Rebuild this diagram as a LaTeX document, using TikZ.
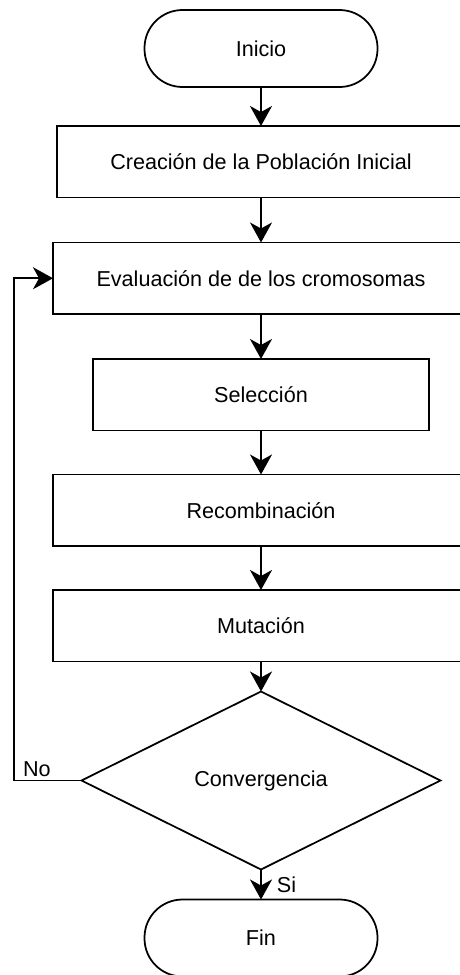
\documentclass[tikz,border=0pt]{standalone}
\usepackage{fontspec}
\setmainfont{Liberation Sans}
\usetikzlibrary{shapes.geometric, arrows.meta, positioning}
\tikzset{
  base/.style={
    draw, line width=1.75pt, outer sep=0pt, text centered,
    font=\fontsize{21.6}{26}\selectfont
  },
  term/.style={base, rectangle, rounded corners=38pt,
    minimum width=233pt, minimum height=77pt},
  proc/.style={base, rectangle, minimum width=416pt, minimum height=71.5pt},
  dec/.style={base, diamond, minimum width=359pt, minimum height=178pt, inner sep=0pt},
  arr/.style={-{Stealth[length=20pt, width=22pt, inset=6pt]}, line width=1.75pt},
  lbl/.style={font=\fontsize{21.6}{26}\selectfont, inner sep=3pt}
}
\begin{document}
\begin{tikzpicture}[x=1pt, y=1pt]
  \useasboundingbox (0,0) rectangle (460,-975);

  \node[term] (inicio) at (261,-48.5) {Inicio};
  \node[proc, minimum width=408pt, below=39pt of inicio] (crea)
        {Creación de la Población Inicial};
  \node[proc, below=45pt of crea] (eval) {Evaluación de de los cromosomas};
  \node[proc, minimum width=336pt, below=45pt of eval] (sel) {Selección};
  \node[proc, below=44pt of sel] (recomb) {Recombinación};
  \node[proc, below=44pt of recomb] (mut) {Mutación};
  \node[dec, below=30pt of mut] (conv) {Convergencia};
  \node[term, below=30pt of conv] (fin) {Fin};

  \draw[arr] (inicio) -- (crea);
  \draw[arr] (crea)   -- (eval);
  \draw[arr] (eval)   -- (sel);
  \draw[arr] (sel)    -- (recomb);
  \draw[arr] (recomb) -- (mut);
  \draw[arr] (mut)    -- (conv);
  \draw[arr] (conv)   -- node[lbl, midway, right=12pt]{Si} (fin);

  %% vuelta si no converge
  \coordinate (ret) at ([xshift=-39pt]eval.west);
  \draw[arr] (conv.west) -| node[lbl, pos=0.33, above]{No} (ret) -- (eval.west);

\end{tikzpicture}
\end{document}
